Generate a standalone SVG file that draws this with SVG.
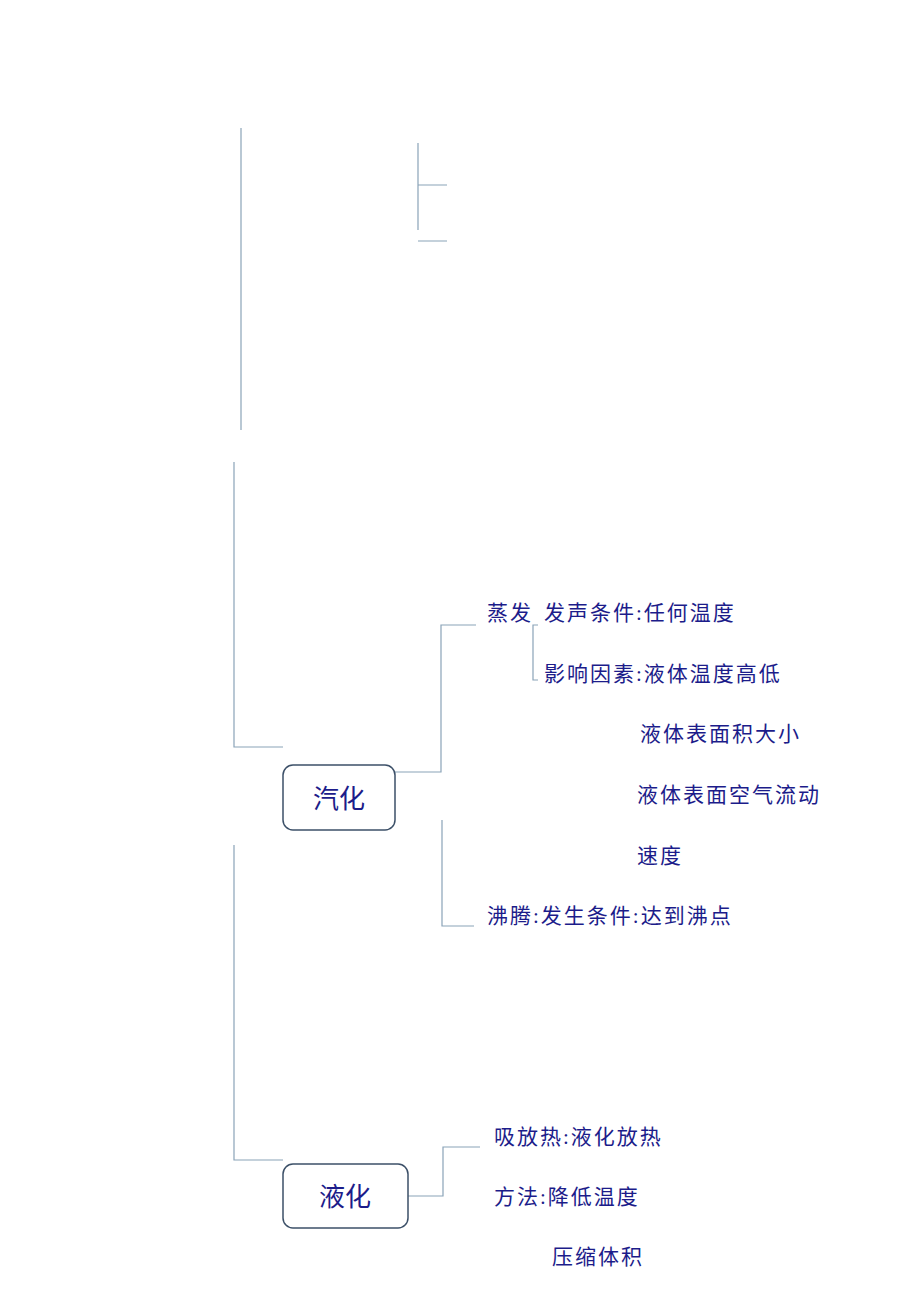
<svg xmlns="http://www.w3.org/2000/svg" width="920" height="1302" viewBox="0 0 920 1302">
<style>
.c{fill:none;stroke:#8aa3b8;stroke-width:1.2}
.t{font-family:"Liberation Serif","Noto Sans CJK SC",serif;font-size:21px;letter-spacing:2px;fill:#1c1c8a}
.b{fill:#fff;stroke:#3c5068;stroke-width:1.5}
.bt{font-family:"Noto Sans CJK SC",sans-serif;font-size:26px;fill:#1c1c8a;text-anchor:middle}
</style>
<rect width="920" height="1302" fill="#fff"/>
<g id="connectors">
<path class="c" d="M241 128V430"/>
<path class="c" d="M418 143V230M418 185H447M418 241H447"/>
<path class="c" d="M234 462V747H283"/>
<path class="c" d="M395 772H441V625H476"/>
<path class="c" d="M538 625H533V680H538"/>
<path class="c" d="M442 820V926H474"/>
<path class="c" d="M234 845V1160H283"/>
<path class="c" d="M408 1196H443V1147H480"/>
</g>
<g id="n-qihua"><rect class="b" x="283" y="765" width="112" height="65" rx="10"/><text class="bt" x="339" y="808">汽化</text></g>
<g id="n-yehua"><rect class="b" x="283" y="1164" width="125" height="64" rx="10"/><text class="bt" x="345" y="1206">液化</text></g>
<g id="n-zhengfa"><text class="t" x="487" y="620">蒸发</text></g>
<g id="n-fasheng"><text class="t" x="544" y="620">发声条件:任何温度</text></g>
<g id="n-yingxiang"><text class="t" x="544" y="681">影响因素:液体温度高低</text></g>
<g id="n-mianji"><text class="t" x="640" y="741">液体表面积大小</text></g>
<g id="n-kongqi"><text class="t" x="637" y="802">液体表面空气流动</text></g>
<g id="n-sudu"><text class="t" x="637" y="863">速度</text></g>
<g id="n-feiteng"><text class="t" x="487" y="923">沸腾:发生条件:达到沸点</text></g>
<g id="n-xifangre"><text class="t" x="494" y="1144">吸放热:液化放热</text></g>
<g id="n-fangfa"><text class="t" x="494" y="1204">方法:降低温度</text></g>
<g id="n-yasuo"><text class="t" x="552" y="1264">压缩体积</text></g>
</svg>
